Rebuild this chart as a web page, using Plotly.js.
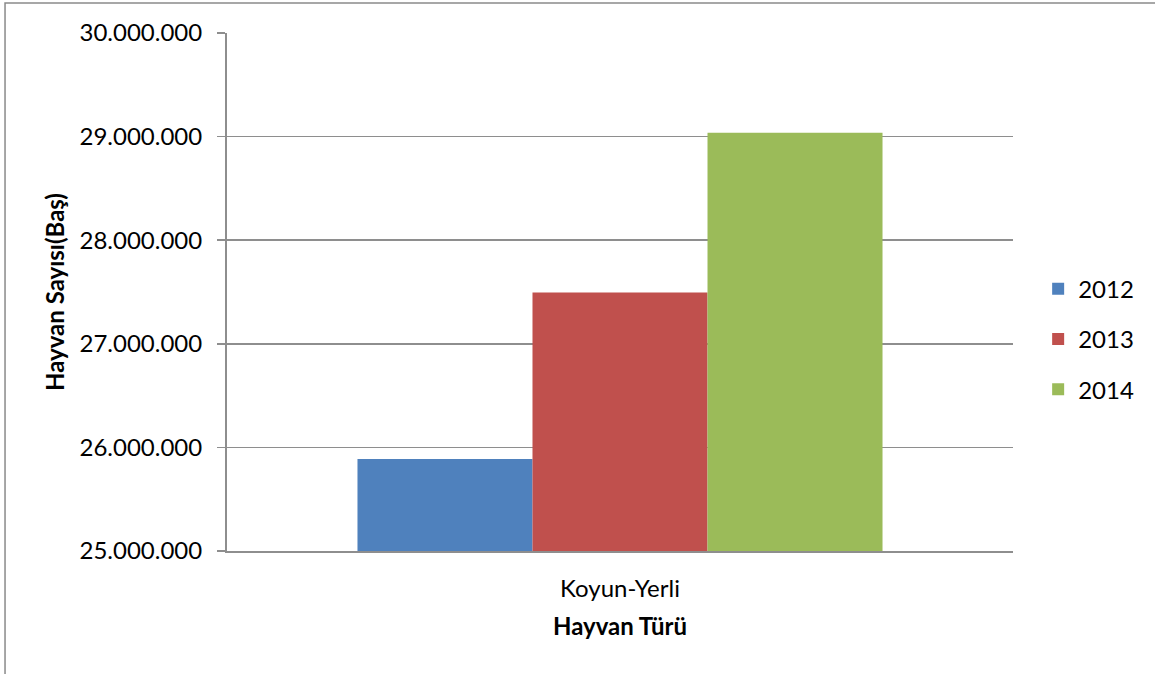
<!DOCTYPE html>
<html>
<head>
<meta charset="utf-8">
<script src="https://cdn.plot.ly/plotly-3.0.1.min.js"></script>
<style>html,body{margin:0;padding:0;background:#fff;}#chart{width:1155px;height:674px;}</style>
</head>
<body>
<div id="chart"></div>
<script>
const categories = ["Koyun-Yerli"];
const years = ["2012", "2013", "2014"];
const values2012 = [25888000];
const values2013 = [27495000];
const values2014 = [29036000];
const seriesValues = [values2012, values2013, values2014];
const colors = ["#4F81BD", "#C0504D", "#9BBB59"];
const yTickVals = [25000000, 26000000, 27000000, 28000000, 29000000, 30000000];

const FONT = "Lato, 'Open Sans', sans-serif";
const GRID = "#8e8e8e";
const FS = 24;

const traces = years.map((y, i) => ({
  type: "bar",
  name: y,
  x: categories,
  y: seriesValues[i],
  marker: {color: colors[i], line: {width: 0}},
  legendgroup: "g" + i,
  hoverinfo: "y+name"
}));

const layout = {
  width: 1155, height: 674,
  margin: {l: 227, r: 142, t: 33, b: 123, pad: 0},
  paper_bgcolor: "#fff", plot_bgcolor: "#fff",
  separators: ",.",
  font: {family: FONT, size: FS, color: "#000"},
  barmode: "group",
  bargap: 0.332,
  bargroupgap: 0,
  showlegend: true,
  legend: {
    x: 1.032, xanchor: "left", y: 0.409, yanchor: "middle",
    font: {family: FONT, size: FS, color: "#000"},
    traceorder: "grouped", tracegroupgap: 16, itemwidth: 30,
    bgcolor: "rgba(0,0,0,0)"
  },
  xaxis: {
    type: "category",
    showline: true, linecolor: GRID, linewidth: 2,
    showgrid: false, ticks: "", ticklabelstandoff: 15,
    tickfont: {family: FONT, size: FS, color: "#000"},
    title: {text: "<b>Hayvan Türü</b>", font: {family: FONT, size: FS, color: "#000"}, standoff: 17}
  },
  yaxis: {
    range: [25000000, 30000000], autorange: false,
    tickvals: yTickVals, tickformat: ",d",
    showline: true, linecolor: GRID, linewidth: 2,
    showgrid: true, gridcolor: GRID, gridwidth: 1.5,
    ticks: "outside", ticklen: 8, tickcolor: GRID, tickwidth: 1.5,
    ticklabelstandoff: 10,
    zeroline: false,
    tickfont: {family: FONT, size: FS, color: "#000"},
    title: {text: "<b>Hayvan Sayısı(Baş)</b>", font: {family: FONT, size: FS, color: "#000"}, standoff: 8}
  },
  shapes: [{
    type: "path", xref: "paper", yref: "paper",
    path: "M -0.2824,-0.26 L -0.2824,1.0579 L 1.19,1.0579",
    line: {color: "#8a8a8a", width: 1.5}
  }]
};

Plotly.newPlot("chart", traces, layout, {displayModeBar: false, staticPlot: true});
</script>
</body>
</html>
